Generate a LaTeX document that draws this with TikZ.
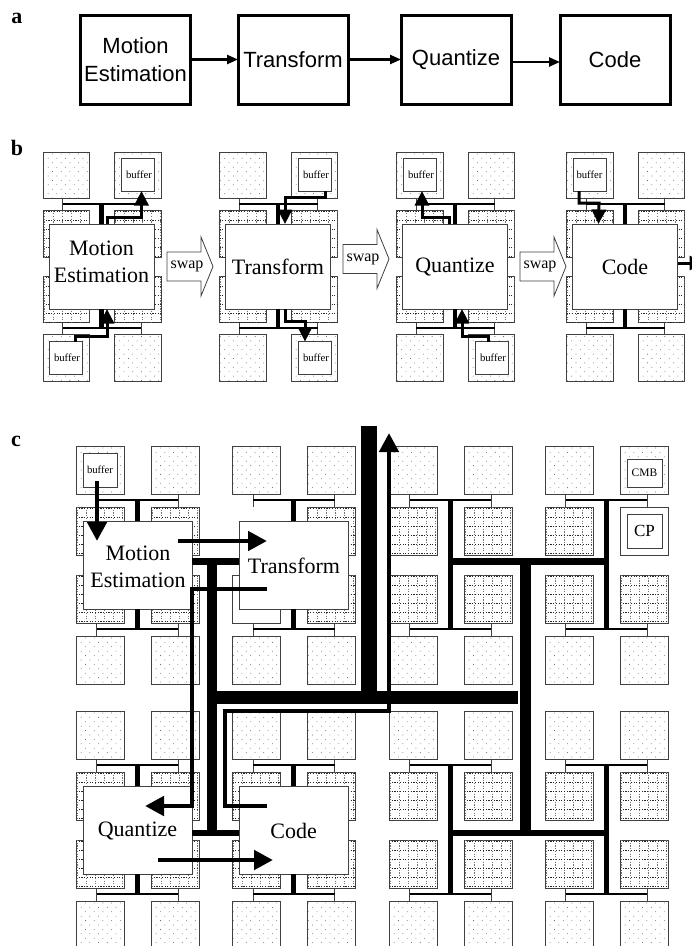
\documentclass[tikz,border=0pt]{standalone}
\usepackage{fontspec}
\setmainfont{Liberation Serif}
\newfontfamily\hvfont{Liberation Sans}
\usetikzlibrary{arrows.meta,calc}
\definecolor{edgec}{gray}{0.25}
\def\sz{48}\def\dxx{75}\def\dyy{61}\def\busdy{54}\def\dl{20.5}\def\dr{102}
\tikzset{
 base square/.style={draw=edgec,line width=1pt,inner sep=0pt,outer sep=0pt,minimum size=\sz},
 dotsq/.style={base square,fill=white},
 gridsq/.style={base square,fill=white},
 plainsq/.style={base square,fill=white},
 gone/.style={inner sep=0pt,outer sep=0pt,minimum size=\sz},
 drop/.style={draw=edgec,line width=1pt},
 bus/.style={draw=black,line width=2.3pt},
 stem/.style={draw=black,line width=4.7pt},
 chip/.style={draw=edgec,fill=white,line width=1pt,inner sep=0pt,outer sep=0pt},
 bufbox/.style={draw=edgec,fill=white,line width=1pt,inner sep=0pt,outer sep=0pt,minimum size=33,font=\fontsize{10.7}{12}\selectfont},
 chiptext/.style={align=center,inner sep=0pt,font=\fontsize{22}{27}\selectfont},
 abox/.style={draw=black,fill=white,line width=3pt,inner sep=0pt,outer sep=0pt,minimum width=110,minimum height=89,align=center,font=\hvfont\fontsize{22}{28}\selectfont},
 aarrow/.style={draw=black,line width=2.4pt,-{Triangle[length=11pt,width=9pt]}},
 barrow/.style={draw=black,line width=3pt,-{Triangle[length=14.5pt,width=14pt]}},
 carrow/.style={draw=black,line width=4.7pt,-{Triangle[length=19pt,width=19pt]}},
 panellbl/.style={anchor=base,inner sep=0pt,font=\bfseries\fontsize{22}{24}\selectfont},
 swaparrow/.style={draw=edgec,fill=white,line width=0.8pt},
 swaptext/.style={inner sep=0pt,font=\fontsize{16}{18}\selectfont},
}
% the fill patterns of the squares, drawn over the node called #1
\newcommand\patdotsq[1]{%
 \begin{scope}
 \clip (#1.north west) rectangle (#1.south east);
 \begin{scope}[shift={(#1.north west)}]
 \fill[black!70] foreach \r in {0,...,10} { foreach \c in {0,...,5} {
   ({0.8+8.7*\c+4.35*mod(\r,2)},{2+4.4*\r}) circle (0.42) } };
 \end{scope}
 \end{scope}}
\newcommand\patgridsq[1]{%
 \begin{scope}
 \clip (#1.north west) rectangle (#1.south east);
 \begin{scope}[shift={(#1.north west)}]
 \foreach \k in {1,10,19,28,37,46} {
   \draw[black!55,line width=0.8pt,dash pattern=on 1.2pt off 1.5pt] (\k,0) -- (\k,48);
   \draw[black!85,line width=0.8pt,dash pattern=on 1.2pt off 1.5pt] (0,\k) -- (48,\k);
 }
 \end{scope}
 \end{scope}}
\newcommand\patplainsq[1]{}
\newcommand\patgone[1]{}
% name, x, y, styles of the four squares
\newcommand\sqpair[7]{%
 \node[#4] (#1a) at ({#2+\sz/2},{#3+\sz/2}) {};
 \node[#5] (#1b) at ({#2+\dxx+\sz/2},{#3+\sz/2}) {};
 \node[#6] (#1c) at ({#2+\sz/2},{#3+\dyy+\sz/2}) {};
 \node[#7] (#1d) at ({#2+\dxx+\sz/2},{#3+\dyy+\sz/2}) {};
 \csname pat#4\endcsname{#1a}
 \csname pat#5\endcsname{#1b}
 \csname pat#6\endcsname{#1c}
 \csname pat#7\endcsname{#1d}
 \coordinate (#1l) at ({#2+\dl},{#3+\busdy});
 \coordinate (#1r) at ({#2+\dr},{#3+\busdy});
 \draw[drop] (#1l |- #1a.south) -- (#1l |- #1c.north);
 \draw[drop] (#1r |- #1b.south) -- (#1r |- #1d.north);
 \draw[bus] (#1l) -- (#1r);
}
\newcommand\swaparr[3]{%
 \draw[swaparrow] (#1,{#2-14.5}) -- ({#1+34},{#2-14.5}) -- ({#1+34},{#2-29.5}) -- ({#1+46},#2) -- ({#1+34},{#2+29.5}) -- ({#1+34},{#2+14.5}) -- (#1,{#2+14.5}) -- cycle;
 \node[swaptext] (#3) at ({#1+20},#2) {swap};
}
% panel b column: name, offset
\newcommand\bcol[2]{%
 \sqpair{#1u}{43+#2}{152}{dotsq}{dotsq}{gridsq}{gridsq}
 \sqpair{#1v}{43+#2}{276}{gridsq}{gridsq}{dotsq}{dotsq}
 \node[chip,minimum width=105,minimum height=85] (#1) at ({101.5+#2},266.5) {};
 \draw[stem] (#1.north) -- (#1.north |- #1ul);
 \draw[stem] (#1.south) -- (#1.south |- #1vl);
}
\begin{document}
\begin{tikzpicture}[x=1pt,y=-1pt]
\useasboundingbox (0,0) rectangle (692,946);
\clip (0,0) rectangle (692,946);

% ---------- panel a
\node[panellbl] (la) at (17,23) {a};
\node[abox] (a1) at (135.5,59.5) {Motion\\Estimation};
\node[abox] (a2) at (293,59.5) {Transform};
\node[abox] (a3) at (456,59.5) {Quantize};
\node[abox] (a4) at (615,59.5) {Code};
\draw[aarrow] (a1.east) -- (a2.west);
\draw[aarrow] (a2.east) -- (a3.west);
\draw[aarrow] ([yshift=-2.5pt]a3.east) -- ([yshift=-2.5pt]a4.west);

% ---------- panel b
\node[panellbl] (lb) at (17,155) {b};
\def\sz{46.5}\def\dxx{71.5}\def\dyy{58.5}\def\busdy{52}\def\dl{19.5}\def\dr{98}
\bcol{bme}{0}
\bcol{btr}{176.5}
\bcol{bqu}{353.5}
\bcol{bco}{523.5}
\node[chiptext] (tbme) at (101.5,261.5) {Motion\\Estimation};
\node[chiptext] (tbtr) at (278,267) {Transform};
\node[chiptext] (tbqu) at (455,267) {Quantize};
\node[chiptext] (tbco) at (625,267) {Code};
\node[bufbox] (bb1) at (137.5,174.5) {\hspace{3pt}buffer};
\node[bufbox] (bb2) at (65.5,358) {\hspace{3pt}buffer};
\node[bufbox] (bb3) at (314.5,174.5) {\hspace{3pt}buffer};
\node[bufbox] (bb4) at (314.5,358) {\hspace{3pt}buffer};
\node[bufbox] (bb5) at (419.5,174.5) {\hspace{3pt}buffer};
\node[bufbox] (bb6) at (491.5,358) {\hspace{3pt}buffer};
\node[bufbox] (bb7) at (589.5,174.5) {buffer};
\coordinate (t1) at (141.5,217);
\coordinate (t2) at (107,336);
\coordinate (t3) at (285,197);
\coordinate (t4) at (305,321);
\coordinate (t5) at (422,217);
\coordinate (t6) at (462,336);
\coordinate (t7) at (599,203);
\draw[barrow] ([xshift=5.5pt]bme.north) |- (t1) -- ([xshift=4pt]bb1.south);
\draw[barrow] ([xshift=9.5pt]bb2.north) |- (t2) -- ([xshift=5.5pt]bme.south);
\draw[barrow] ([xshift=10.5pt]bb3.south) |- (t3) -- ([xshift=7pt]btr.north);
\draw[barrow] ([xshift=7pt]btr.south) |- (t4) -- ([xshift=-9.5pt]bb4.north);
\draw[barrow] ([xshift=-6pt]bqu.north) |- (t5) -- ([xshift=2.5pt]bb5.south);
\draw[barrow] ([xshift=-3.5pt]bb6.north) |- (t6) -- ([xshift=7pt]bqu.south);
\draw[barrow] ([xshift=-10.5pt]bb7.south) |- (t7) -- ([xshift=-26.5pt]bco.north);
\coordinate (bout) at (704,263);
\draw[barrow] (bco.east |- bout) -- (bout);
\swaparr{167}{266.5}{sw1}
\swaparr{343}{259}{sw2}
\swaparr{520}{266.5}{sw3}

% ---------- panel c
\node[panellbl] (lc) at (16,446) {c};
\def\sz{48}\def\dxx{75}\def\dyy{61}\def\busdy{54}\def\dl{20.5}\def\dr{102}
\sqpair{p1}{76}{446}{dotsq}{dotsq}{gridsq}{gridsq}
\sqpair{p2}{232.5}{446}{dotsq}{dotsq}{gone}{gridsq}
\sqpair{p3}{389}{446}{dotsq}{dotsq}{gridsq}{gridsq}
\sqpair{p4}{545}{446}{dotsq}{dotsq}{gridsq}{plainsq}
\sqpair{q1}{76}{575}{gridsq}{gridsq}{dotsq}{dotsq}
\sqpair{q2}{232.5}{575}{plainsq}{gridsq}{dotsq}{dotsq}
\sqpair{q3}{389}{575}{gridsq}{gridsq}{dotsq}{dotsq}
\sqpair{q4}{545}{575}{gridsq}{gridsq}{dotsq}{dotsq}
\sqpair{r1}{76}{711}{dotsq}{dotsq}{gridsq}{gridsq}
\sqpair{r2}{232.5}{711}{dotsq}{dotsq}{gridsq}{gridsq}
\sqpair{r3}{389}{711}{dotsq}{dotsq}{gridsq}{gridsq}
\sqpair{r4}{545}{711}{dotsq}{dotsq}{gridsq}{gridsq}
\sqpair{s1}{76}{840}{gridsq}{gridsq}{dotsq}{dotsq}
\sqpair{s2}{232.5}{840}{gridsq}{gridsq}{dotsq}{dotsq}
\sqpair{s3}{389}{840}{gridsq}{gridsq}{dotsq}{dotsq}
\sqpair{s4}{545}{840}{gridsq}{gridsq}{dotsq}{dotsq}
\node[bufbox,minimum size=34] (cbuf) at (100,470) {buffer};
\node[bufbox,minimum width=35,minimum height=28,font=\fontsize{11.5}{13}\selectfont] (cmb) at (644.5,473) {CMB};
\node[bufbox,minimum width=35,minimum height=34,font=\fontsize{17}{19}\selectfont] (cp) at (644.5,531) {CP};
\node[chip,minimum width=109,minimum height=88] (cme) at (137.5,565) {};
\node[chip,minimum width=109,minimum height=88] (ctr) at (293.5,565) {};
\node[chip,minimum width=109,minimum height=88] (cqu) at (137.5,830) {};
\node[chip,minimum width=109,minimum height=88] (cco) at (293.5,830) {};
\node[chiptext] (tcme) at (138,566.5) {Motion\\Estimation};
\node[chiptext] (tctr) at (294,566) {Transform};
\node[chiptext] (tcqu) at (137.5,831) {Quantize};
\node[chiptext] (tcco) at (293.7,831) {Code};
% stems from chips to the buses
\draw[stem] (cme.north) -- (cme.north |- p1l);
\draw[stem] (cme.south) -- (cme.south |- q1l);
\draw[stem] (ctr.north) -- (ctr.north |- p2l);
\draw[stem] (ctr.south) -- (ctr.south |- q2l);
\draw[stem] (cqu.north) -- (cqu.north |- r1l);
\draw[stem] (cqu.south) -- (cqu.south |- s1l);
\draw[stem] (cco.north) -- (cco.north |- r2l);
\draw[stem] (cco.south) -- (cco.south |- s2l);
% trunk lines
\coordinate (j1u) at (450,500); \coordinate (j1d) at (450,629);
\coordinate (j2u) at (606.7,500); \coordinate (j2d) at (606.7,629);
\coordinate (j3u) at (450,765); \coordinate (j3d) at (450,894);
\coordinate (j4u) at (606.7,765); \coordinate (j4d) at (606.7,894);
\draw[draw=black,line width=5pt] (j1u) -- (j1d);
\draw[draw=black,line width=5pt] (j2u) -- (j2d);
\draw[draw=black,line width=5pt] (j3u) -- (j3d);
\draw[draw=black,line width=5pt] (j4u) -- (j4d);
\coordinate (h1l) at (447.5,561.5); \coordinate (h1r) at (609.2,561.5);
\coordinate (h2l) at (447.5,833); \coordinate (h2r) at (609.2,833);
\draw[draw=black,line width=7.5pt] (h1l) -- (h1r);
\draw[draw=black,line width=6.5pt] (h2l) -- (h2r);
\coordinate (v2t) at (525.5,561.5); \coordinate (v2b) at (525.5,833);
\draw[draw=black,line width=11pt] (v2t) -- (v2b);
\draw[draw=black,line width=7pt] ([yshift=3.5pt]cme.east) -- ([yshift=3.5pt]ctr.west);
\draw[draw=black,line width=6.5pt] ([yshift=-3pt]cqu.east) -- ([yshift=-3pt]cco.west);
\coordinate (v1t) at (212,558); \coordinate (v1b) at (212,836);
\draw[draw=black,line width=10.7pt] (v1t) -- (v1b);
\coordinate (tr1) at (369,426); \coordinate (tr2) at (369,697.5);
\coordinate (bar1) at (206.7,697.5); \coordinate (bar2) at (518.3,697.5);
\draw[draw=black,line width=16pt] (tr1) -- (tr2);
\draw[draw=black,line width=13pt] (bar1) -- (bar2);
% arrows
\coordinate (ca1s) at (97,481); \coordinate (ca1e) at (97,541);
\coordinate (ca2s) at (178,541); \coordinate (ca2e) at (267,541);
\coordinate (ca3s) at (158,860); \coordinate (ca3e) at (273,860);
\coordinate (ca4s) at (267,589); \coordinate (ca4a) at (192,589); \coordinate (ca4b) at (192,806); \coordinate (ca4e) at (145,806);
\coordinate (ca5s) at (267,806); \coordinate (ca5a) at (225,806); \coordinate (ca5b) at (225,711); \coordinate (ca5c) at (389,711); \coordinate (ca5e) at (389,433);
\draw[carrow] (ca1s) -- (ca1e);
\draw[carrow] (ca2s) -- (ca2e);
\draw[carrow] (ca3s) -- (ca3e);
\draw[carrow] (ca4s) -- (ca4a) -- (ca4b) -- (ca4e);
\draw[carrow,line width=4.5pt] (ca5s) -- (ca5a) -- (ca5b) -- (ca5c) -- (ca5e);
\end{tikzpicture}
\end{document}
